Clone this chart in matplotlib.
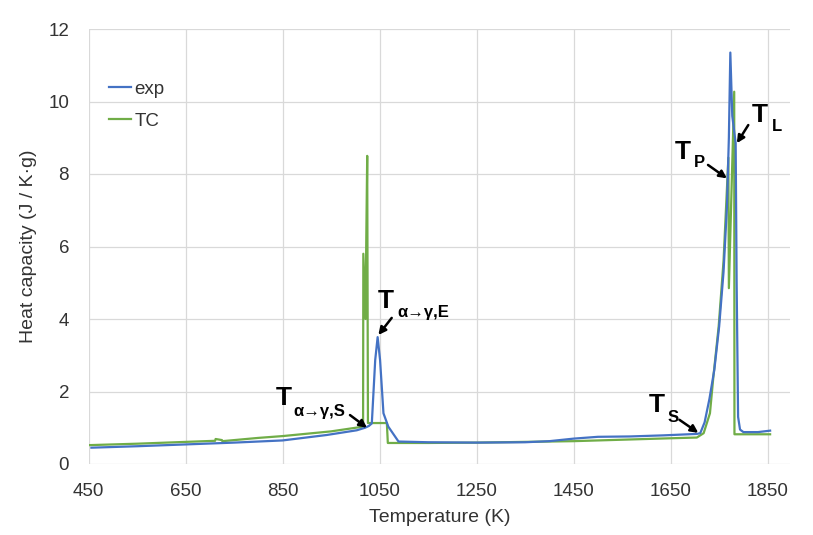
import matplotlib
matplotlib.use("Agg")
import matplotlib.pyplot as plt

plt.rcParams['font.family'] = ['Liberation Sans', 'DejaVu Sans']

# measured curve (exp)
exp_T = [456, 550, 650, 750, 850, 941, 1003, 1020, 1028, 1034, 1041, 1046, 1051, 1058,
         1068, 1089, 1150, 1250, 1350, 1400, 1450, 1500, 1566, 1635, 1704, 1711, 1720, 1730,
         1740, 1750, 1759, 1766, 1770, 1773, 1777, 1784, 1786, 1789, 1793, 1800, 1830, 1855]
exp_cp = [0.45, 0.49, 0.54, 0.59, 0.65, 0.80, 0.93, 1.00, 1.05, 1.12, 2.87, 3.50, 2.87, 1.40,
          1.03, 0.62, 0.60, 0.59, 0.60, 0.63, 0.70, 0.75, 0.76, 0.79, 0.83, 0.85, 1.15, 1.80,
          2.60, 3.80, 5.30, 7.10, 9.00, 11.35, 9.60, 8.85, 5.00, 1.30, 0.95, 0.88, 0.88, 0.92]

# thermo-calc curve (TC)
tc_T = [450, 550, 650, 711, 712, 725, 726, 800, 850, 950, 1016, 1016.5, 1021, 1022.5,
        1024.5, 1026, 1065, 1067, 1150, 1250, 1450, 1650, 1704, 1718, 1731, 1738, 1749,
        1759, 1769, 1770, 1781, 1781.5, 1855]
tc_cp = [0.52, 0.56, 0.61, 0.64, 0.69, 0.66, 0.63, 0.72, 0.77, 0.90, 1.03, 5.80, 4.00, 6.10,
         8.50, 1.13, 1.13, 0.58, 0.58, 0.59, 0.63, 0.71, 0.73, 0.85, 1.40, 2.40, 3.80,
         5.60, 8.45, 4.85, 10.27, 0.82, 0.82]

fig = plt.figure(figsize=(8.13, 5.35), dpi=100)
ax = fig.add_axes([88.5/813, 1-464/535, (790-88.5)/813, (464-29)/535])

ax.plot(exp_T, exp_cp, color='#4472C4', lw=1.6, label='exp', zorder=3)
ax.plot(tc_T, tc_cp, color='#70AD47', lw=1.6, label='TC', zorder=2)

ax.set_xlim(450, 1896)
ax.set_ylim(0, 12)
ax.set_xticks(range(450, 1851, 200))
ax.set_yticks(range(0, 13, 2))
ax.grid(True, color='#d9d9d9', lw=0.9)
ax.set_axisbelow(True)
for s in ax.spines.values():
    s.set_visible(False)
ax.tick_params(length=0, labelsize=13.5, labelcolor='#333333', pad=14)

ax.set_xlabel('Temperature (K)', fontsize=14, color='#333333', labelpad=6)
ax.set_ylabel('Heat capacity (J / K·g)', fontsize=14, color='#333333', labelpad=8)

leg = ax.legend(loc='upper left', bbox_to_anchor=(0.005, 0.92), frameon=False,
                fontsize=13.5, handlelength=1.2, handletextpad=0.15, labelspacing=0.8)
for t in leg.get_texts():
    t.set_color('#333333')

# annotations: (main pos, subscript, sub pos, arrow tail, arrow head)
notes = [
    ((853, 1.82), 'α→γ,S', (872, 1.46), (989, 1.35), (1024, 1.0)),
    ((1063, 4.5), 'α→γ,E', (1086, 4.19), (1075, 4.03), (1047.5, 3.56)),
    ((1621, 1.63), 'S', (1643, 1.27), (1668, 1.22), (1707, 0.86)),
    ((1674, 8.6), 'P', (1697, 8.32), (1727, 8.25), (1766, 7.88)),
    ((1833.5, 9.63), 'L', (1858, 9.3), (1810, 9.35), (1786.5, 8.85)),
]
for tpos, sub, spos, tail, head in notes:
    ax.text(*tpos, 'T', fontsize=19, fontweight='bold', ha='center', va='center')
    ax.text(*spos, sub, fontsize=12, fontweight='bold', ha='left', va='center')
    ax.annotate('', xy=head, xytext=tail,
                arrowprops=dict(arrowstyle='-|>', color='black', lw=1.8, mutation_scale=11,
                                shrinkA=0, shrinkB=0))

plt.savefig('out.png', dpi=100)
